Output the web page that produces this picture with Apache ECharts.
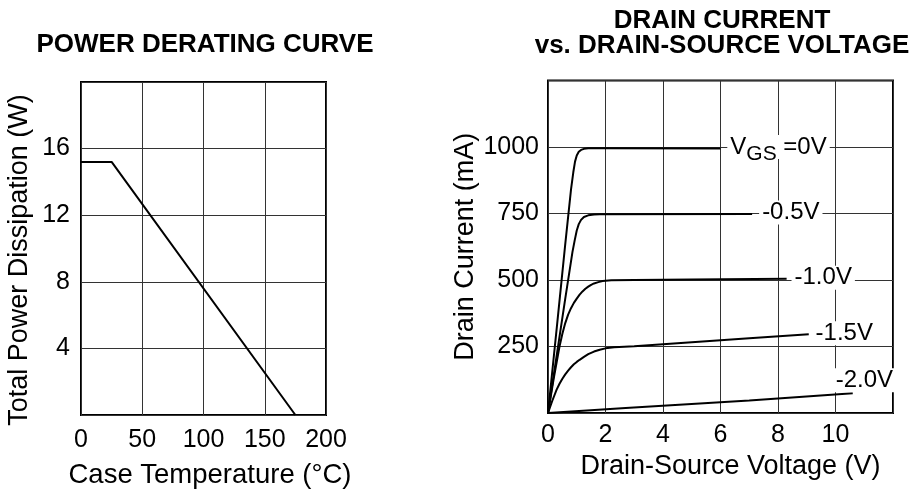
<!DOCTYPE html>
<html><head><meta charset="utf-8">
<script src="https://cdn.jsdelivr.net/npm/echarts@6/dist/echarts.min.js"></script>
<style>html,body{margin:0;padding:0;background:#fff}#c{width:909px;height:500px}</style>
</head><body><div id="c"></div>
<script>
// ---- Power derating curve ----
const tempC  = [0, 25, 175];
const powerW = [15.2, 15.2, 0];
const tempTicks  = [0, 50, 100, 150, 200];
const powerTicks = [4, 8, 12, 16];

// ---- Drain current vs drain-source voltage ----
const vds0  = [0, 0.3, 0.6, 0.8, 0.88, 0.94, 1.0, 1.07, 1.15, 1.25, 1.4, 2.0, 6.0];
const id0   = [0, 315, 635, 840, 905, 945, 968, 982, 989, 993, 995, 995, 994];
const vds05 = [0, 0.3, 0.6, 0.85, 0.93, 1.0, 1.07, 1.15, 1.25, 1.4, 1.6, 1.8, 7.1];
const id05  = [0, 215, 430, 605, 650, 686, 710, 726, 737, 743, 746, 747, 748];
const vds10 = [0, 0.2, 0.4, 0.5, 0.6, 0.7, 0.8, 0.9, 1.0, 1.1, 1.2, 1.3, 1.4, 1.5, 1.6, 1.75, 1.9, 2.2, 3.0, 5.0, 8.3];
const id10  = [0, 130, 250, 298, 338, 370, 394, 414, 430, 445, 457, 467, 475, 482, 487, 492, 496, 499, 500, 502, 505];
const vds15 = [0, 0.15, 0.3, 0.4, 0.5, 0.6, 0.7, 0.8, 0.9, 1.0, 1.1, 1.25, 1.4, 1.6, 1.8, 2.0, 2.3, 3.0, 5.0, 7.0, 9.07];
const id15  = [0, 46, 88, 110, 129, 145, 159, 172, 183, 192, 200, 211, 221, 231, 238, 243, 247, 251, 266, 281, 296];
const vds20 = [0, 2.7, 7.0, 10.6];
const id20  = [0, 19, 47, 74];
const vdsTicks = [0, 2, 4, 6, 8, 10];
const idTicks  = [250, 500, 750, 1000];
const curveLabels = ['{a|V}{b|GS}{a| =0V}', '-0.5V', '-1.0V', '-1.5V', '-2.0V'];

const FONT = "'Liberation Sans', Arial, Helvetica, sans-serif";
const zip = (xs, ys) => xs.map((x, i) => [x, ys[i]]);
const tickFmt = ticks => v => ticks.includes(v) ? String(v) : '';
const split = {show: true, lineStyle: {color: '#333', width: 1}};
const lineStyle = {color: '#000', width: 2};

function endLab(text, ox, oy, pad) {
  return {
    show: true, formatter: text, distance: 0, offset: [ox, oy],
    color: '#000', fontFamily: FONT, fontSize: 24,
    backgroundColor: '#fff', padding: pad || [0, 3],
    rich: {
      a: {fontFamily: FONT, fontSize: 24, lineHeight: 24, color: '#000'},
      b: {fontFamily: FONT, fontSize: 21, lineHeight: 21, color: '#000', padding: [14, 0, 0, 0]}
    }
  };
}

function curve(xs, ys, label) {
  return {
    type: 'line', xAxisIndex: 1, yAxisIndex: 1, data: zip(xs, ys),
    showSymbol: false, symbol: 'none', smooth: false,
    lineStyle: lineStyle, endLabel: label, silent: true
  };
}

const chart = echarts.init(document.getElementById('c'));
chart.setOption({
  animation: false,
  backgroundColor: '#fff',
  textStyle: {fontFamily: FONT, color: '#000'},
  title: [
    {text: 'POWER DERATING CURVE', left: 200, top: 27, textAlign: 'center',
     textStyle: {fontFamily: FONT, fontSize: 26, fontWeight: 'bold', color: '#000', lineHeight: 26}},
    {text: 'DRAIN CURRENT\nvs. DRAIN-SOURCE VOLTAGE', left: 717, top: 3, textAlign: 'center',
     textStyle: {fontFamily: FONT, fontSize: 26, fontWeight: 'bold', color: '#000', lineHeight: 25}}
  ],
  grid: [
    {left: 81, top: 82, width: 245, height: 333, show: true, borderColor: '#000', borderWidth: 2, backgroundColor: 'transparent', containLabel: false},
    {left: 548, top: 80.5, width: 345, height: 332.5, show: true, borderColor: '#000', borderWidth: 2, backgroundColor: 'transparent', containLabel: false}
  ],
  xAxis: [
    {type: 'value', gridIndex: 0, min: 0, max: 200, interval: 50,
     axisLine: {show: false}, axisTick: {show: false}, splitLine: split,
     axisLabel: {fontFamily: FONT, fontSize: 25, color: '#000', margin: 13, formatter: tickFmt(tempTicks)},
     name: 'Case Temperature (°C)', nameLocation: 'middle', nameGap: 46,
     nameTextStyle: {fontFamily: FONT, fontSize: 27.5, color: '#000', padding: [0, 0, 0, 13]}},
    {type: 'value', gridIndex: 1, min: 0, max: 12, interval: 2,
     axisLine: {show: false}, axisTick: {show: false}, splitLine: split,
     axisLabel: {fontFamily: FONT, fontSize: 25, color: '#000', margin: 10, formatter: tickFmt(vdsTicks)},
     name: 'Drain-Source Voltage (V)', nameLocation: 'middle', nameGap: 37,
     nameTextStyle: {fontFamily: FONT, fontSize: 27, color: '#000', padding: [0, 0, 0, 20]}},
  ],
  yAxis: [
    {type: 'value', gridIndex: 0, min: 0, max: 20, interval: 4,
     axisLine: {show: false}, axisTick: {show: false}, splitLine: split,
     axisLabel: {fontFamily: FONT, fontSize: 25, color: '#000', margin: 11, formatter: tickFmt(powerTicks)},
     name: 'Total Power Dissipation (W)', nameLocation: 'middle', nameGap: 47.5,
     nameTextStyle: {fontFamily: FONT, fontSize: 27, color: '#000', padding: [0, 23, 0, 0]}},
    {type: 'value', gridIndex: 1, min: 0, max: 1250, interval: 250,
     axisLine: {show: false}, axisTick: {show: false}, splitLine: split,
     axisLabel: {fontFamily: FONT, fontSize: 25, color: '#000', margin: 9, formatter: tickFmt(idTicks)},
     name: 'Drain Current (mA)', nameLocation: 'middle', nameGap: 69,
     nameTextStyle: {fontFamily: FONT, fontSize: 27, color: '#000'}}
  ],
  series: [
    {type: 'line', xAxisIndex: 0, yAxisIndex: 0, data: zip(tempC, powerW),
     showSymbol: false, symbol: 'none', lineStyle: lineStyle, silent: true},
    curve(vds0,  id0,  endLab(curveLabels[0], 6.8, -1.5)),
    curve(vds05, id05, endLab(curveLabels[1], 7, -1.5)),
    curve(vds10, id10, endLab(curveLabels[2], 4.9, -1)),
    curve(vds15, id15, endLab(curveLabels[3], 3.8, -1)),
    curve(vds20, id20, endLab(curveLabels[4], -18, -13, [0, 1]))
  ]
});
</script></body></html>
